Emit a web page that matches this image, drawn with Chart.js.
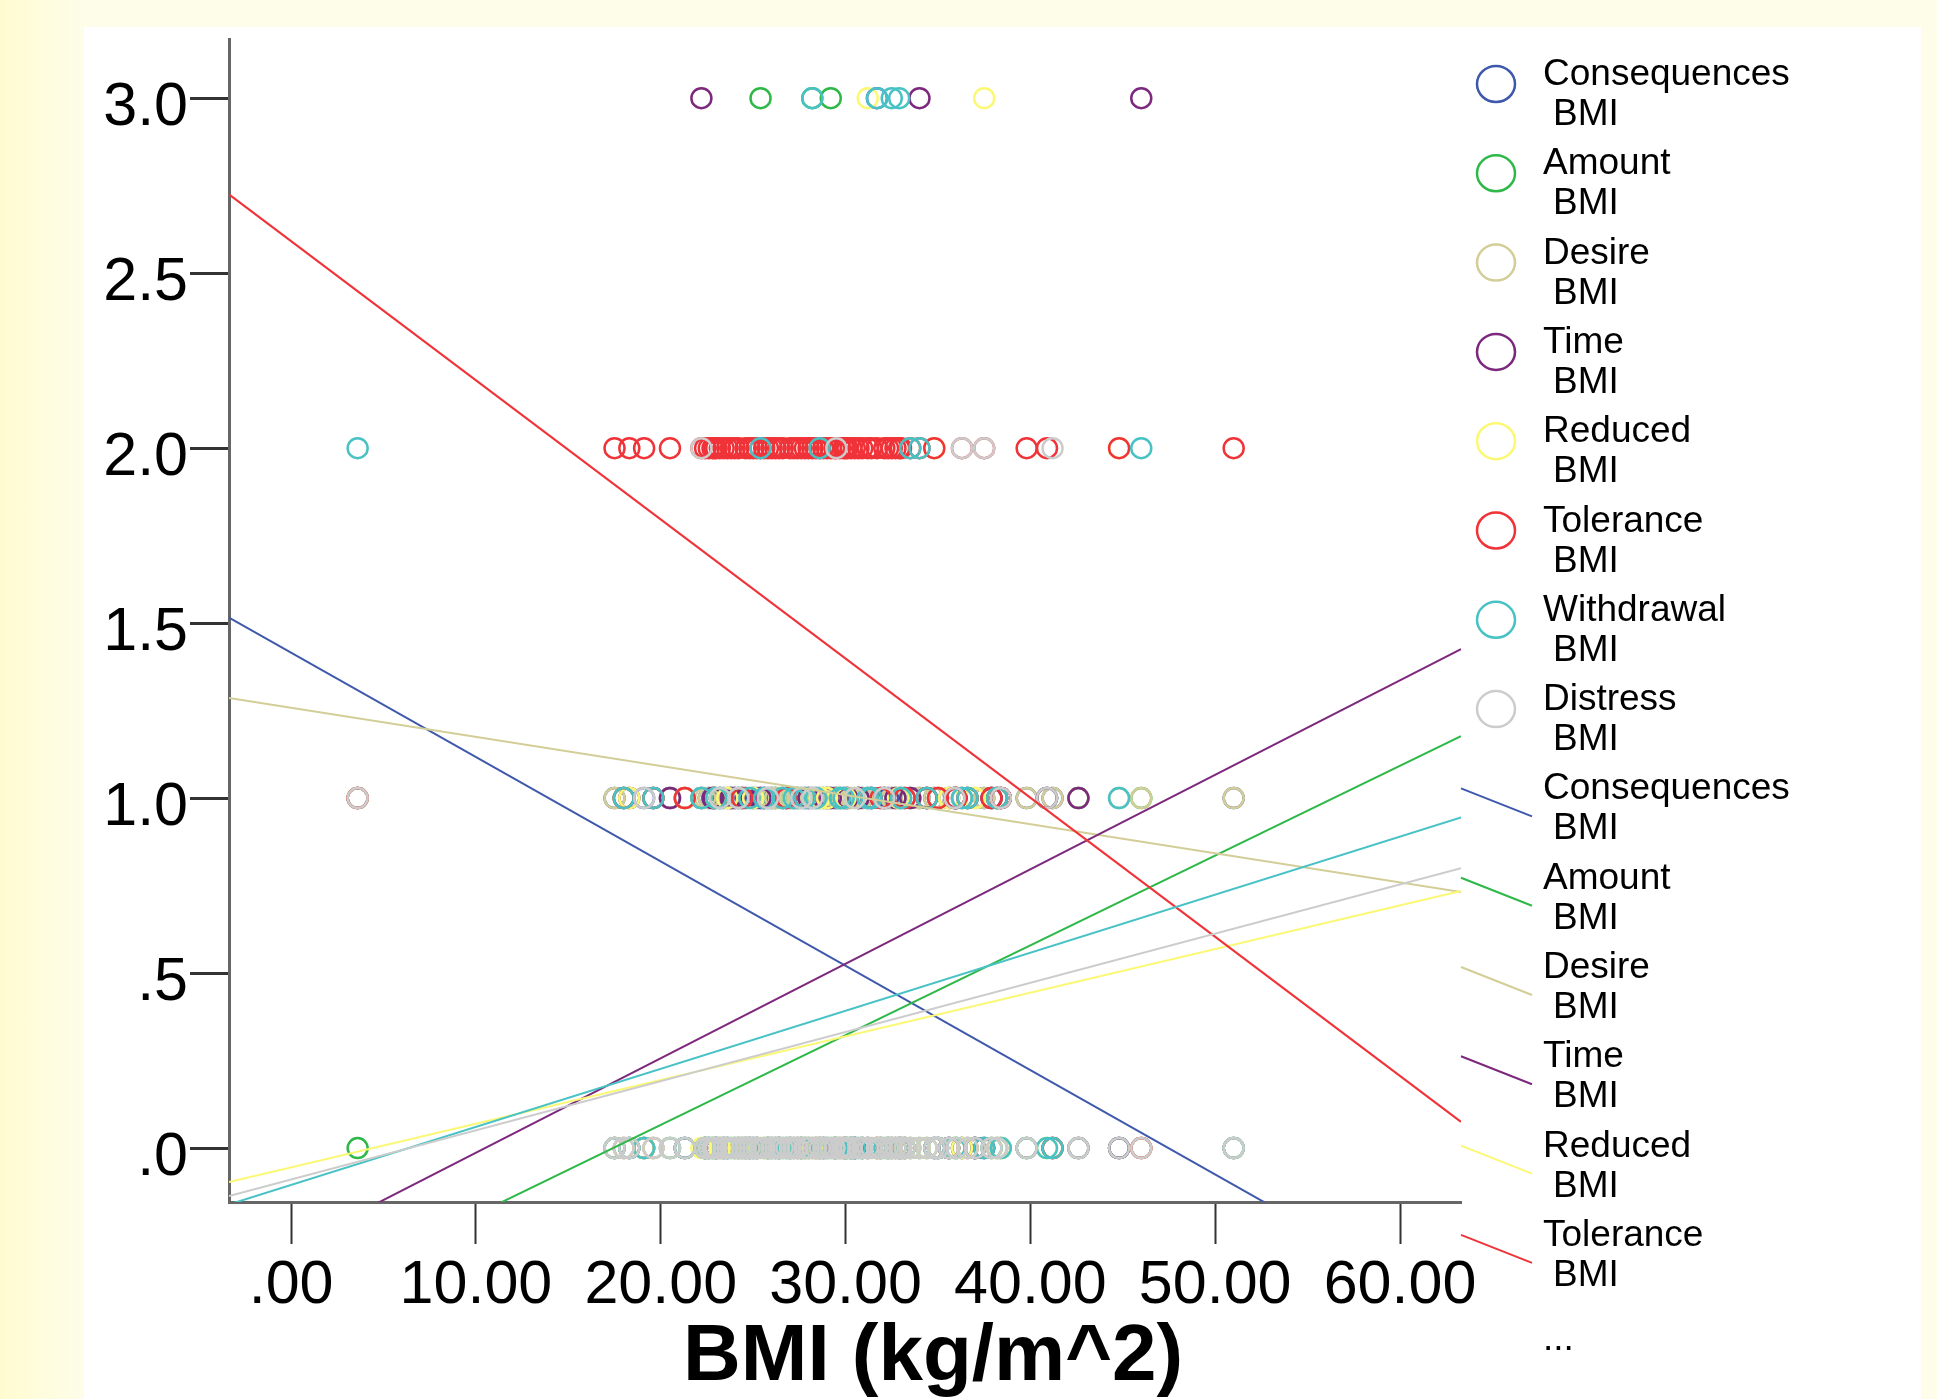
<!DOCTYPE html>
<html>
<head>
<meta charset="utf-8">
<title>BMI scatter</title>
<script src="https://cdn.jsdelivr.net/npm/chart.js@4.4.1/dist/chart.umd.min.js"></script>
<style>
    html, body {
        margin: 0;
        padding: 0;
        width: 1937px;
        height: 1399px;
        overflow: hidden;
        background: linear-gradient(to right, #fffbd0 0px, #fefde2 60px, #fdfde9 84px, #fdfde9 100%);
    }
    #panel {
        position: absolute;
        left: 84px;
        top: 27px;
        width: 1837px;
        height: 1372px;
        background: #ffffff;
    }
</style>
</head>
<body>
<div id="panel"><canvas id="chart" width="1837" height="1372"></canvas></div>
<script>
// Серии и цвета (как в SPSS)
const seriesNames = ['Consequences', 'Amount', 'Desire', 'Time', 'Reduced', 'Tolerance', 'Withdrawal', 'Distress'];
const seriesColors = ['#3e58ac', '#2eb848', '#d3ce97', '#7c287d', '#fbf873', '#ef3338', '#48c2c5', '#cccccc'];

// ИМТ участников (первые 49 по возрастанию, дальше плотные группы 22-33 и 33-38)
const bmi = [3.6, 17.5, 18.0, 18.3, 19.1, 19.6, 20.5, 21.3, 22.2, 22.4,
    22.8, 23.2, 23.6, 24.0, 24.4, 24.8, 25.4, 25.8, 26.2, 26.6,
    27.0, 27.4, 27.8, 28.2, 28.6, 29.2, 29.5, 29.9, 30.3, 30.7,
    31.2, 31.7, 32.1, 32.5, 32.9, 33.5, 34.0, 34.8, 35.9, 36.3,
    37.5, 38.4, 39.8, 40.9, 41.2, 42.6, 44.8, 46.0, 51.0,
    22.6, 22.9, 23.0, 23.4, 23.8, 24.2, 24.6, 25.0, 25.2, 25.6,
    26.0, 26.4, 26.8, 27.2, 27.6, 28.0, 28.4, 28.8, 29.0, 29.4,
    29.7, 30.1, 30.5, 30.9, 31.4, 31.9, 32.3, 32.7, 33.0, 30.0,
    33.2, 34.4, 35.0, 35.6, 36.0, 36.6, 37.0, 37.9, 38.2];

// Баллы по каждой шкале (0-3), в порядке bmi
const consequences = [1,1,1,0,1,1,1,1,1,0, 1,1,1,1,1,0,1,1,1,1, 1,1,0,1,1,1,1,1,0,1, 1,3,1,1,1,0,1,1,1,1, 1,1,1,1,1,0,0,0,1,
    1,1,0,1,1,1,0,1,1,1, 1,0,1,1,1,1,1,0,1,1, 1,1,0,1,1,1,1,0,1,1,
    1,1,0,1,1,1,0,1,1];
const amount       = [0,0,1,0,0,1,0,0,1,0, 0,1,0,0,1,0,3,0,1,0, 0,1,0,3,0,3,1,0,0,1, 0,0,1,0,0,1,0,0,1,0, 0,0,0,1,0,1,0,1,0,
    0,1,0,0,1,0,0,1,0,0, 1,0,0,1,0,0,0,1,0,0, 1,0,0,0,1,0,0,1,0,0,
    0,0,1,0,0,1,0,0,1];
const desire       = [1,1,1,1,0,1,1,1,1,1, 1,0,1,1,1,1,1,0,1,1, 1,1,1,1,0,1,1,1,1,1, 1,0,1,1,1,1,1,1,0,1, 1,1,1,1,1,1,1,1,1,
    1,1,1,0,1,1,1,1,0,1, 1,1,1,1,0,1,1,1,1,1, 0,1,1,1,1,1,0,1,1,1,
    1,1,1,1,0,1,1,1,1];
const time         = [1,0,0,1,0,0,1,0,3,0, 1,0,0,1,0,0,1,0,0,1, 0,0,1,0,0,1,0,0,0,1, 0,0,1,0,0,1,3,0,1,0, 0,1,0,1,0,1,0,3,0,
    0,1,0,0,1,0,1,0,0,1, 0,0,1,0,0,1,0,0,1,0, 0,1,0,0,1,0,0,1,0,0,
    0,1,0,0,1,0,0,1,0];
const reduced      = [1,0,0,1,0,0,0,1,0,0, 0,0,1,0,0,0,0,0,0,1, 0,0,0,0,1,0,0,0,0,0, 3,0,0,0,1,0,0,2,0,0, 3,0,0,0,0,0,2,0,0,
    0,0,1,0,0,0,0,1,0,0, 0,0,0,1,0,0,0,0,1,0, 0,0,1,0,0,0,0,0,0,1,
    0,0,0,1,0,0,1,0,0];
const tolerance    = [1,2,1,2,2,1,2,1,2,2, 2,2,2,2,1,2,2,2,2,2, 2,2,2,2,2,2,2,2,2,2, 2,2,2,2,2,2,2,2,1,2, 2,1,2,2,0,0,2,0,2,
    2,2,2,2,2,2,2,2,2,2, 2,2,1,2,2,2,2,2,2,2, 2,2,2,2,2,1,2,2,2,2,
    1,1,1,0,1,1,0,1,1];
const withdrawal   = [2,0,1,0,0,1,0,0,1,0, 0,1,0,0,0,1,2,0,0,1, 0,0,1,3,2,0,0,1,0,0, 1,3,0,3,3,2,2,0,0,1, 0,0,0,0,0,0,1,2,0,
    0,0,1,0,0,1,0,0,0,1, 0,0,0,1,0,0,1,0,0,0, 1,0,0,0,1,0,0,0,1,0,
    0,1,0,0,0,1,0,0,1];
const distress     = [1,0,0,0,1,0,0,0,2,0, 0,1,0,0,0,0,0,1,0,0, 0,0,0,1,0,0,2,0,0,0, 0,0,1,0,0,0,0,0,1,2, 2,1,0,1,2,0,0,0,0,
    0,0,0,0,0,1,0,0,0,0, 0,0,0,0,1,0,0,0,0,0, 0,0,1,0,0,0,0,0,0,0,
    0,0,0,0,0,0,0,0,0];
const scores = [consequences, amount, desire, time, reduced, tolerance, withdrawal, distress];

// Линии регрессии: значение на левом и правом краю оси X
const xMin = -3.36;
const xMax = 63.3;
const fitAtMin = [1.516, -0.533, 1.286, -0.374, -0.097, 2.725, -0.161, -0.137];
const fitAtMax = [-0.472, 1.177, 0.732, 1.426, 0.735, 0.075, 0.945, 0.800];

// Оси
const xTicks = [0, 10, 20, 30, 40, 50, 60];
const xTickLabels = ['.00', '10.00', '20.00', '30.00', '40.00', '50.00', '60.00'];
const yTicks = [0, 0.5, 1, 1.5, 2, 2.5, 3];
const yTickLabels = ['.0', '.5', '1.0', '1.5', '2.0', '2.5', '3.0'];
const xTitle = 'BMI (kg/m^2)';
const legendFitCount = 6; // в легенде видны только первые 6 линий, дальше "..."

const FONT = "'Liberation Sans', Arial, sans-serif";

// Наборы данных: сначала точки, потом линии (линии поверх)
const datasets = [];
seriesNames.forEach((name, i) => {
    datasets.push({
        type: 'scatter',
        label: name,
        data: bmi.map((b, k) => ({ x: b, y: scores[i][k] })),
        pointStyle: 'circle',
        pointRadius: 10,
        pointBorderWidth: 2.5,
        pointBorderColor: seriesColors[i],
        pointBackgroundColor: 'rgba(0,0,0,0)',
        order: 20 - i
    });
});
seriesNames.forEach((name, i) => {
    datasets.push({
        type: 'line',
        label: name + ' fit',
        data: [{ x: xMin, y: fitAtMin[i] }, { x: xMax, y: fitAtMax[i] }],
        borderColor: seriesColors[i],
        borderWidth: 2,
        pointRadius: 0,
        fill: false,
        order: 10 - i
    });
});

// Легенда в стиле SPSS и подпись оси X
const spssLegend = {
    id: 'spssLegend',
    afterDraw(chart) {
        const ctx = chart.ctx;
        const textX = 1543 - 84;
        const step = 89.3;
        const firstBase = 85 - 27;
        ctx.save();
        ctx.font = '37px ' + FONT;
        ctx.textAlign = 'left';
        ctx.textBaseline = 'alphabetic';

        const items = [];
        seriesNames.forEach((n, i) => items.push({ kind: 'point', name: n, color: seriesColors[i] }));
        seriesNames.slice(0, legendFitCount).forEach((n, i) => items.push({ kind: 'line', name: n, color: seriesColors[i] }));

        items.forEach((it, k) => {
            const base = firstBase + step * k;
            if (it.kind === 'point') {
                ctx.beginPath();
                ctx.strokeStyle = it.color;
                ctx.lineWidth = 2.5;
                ctx.ellipse(1496 - 84, base - 1, 19, 18, 0, 0, Math.PI * 2);
                ctx.stroke();
            } else {
                ctx.beginPath();
                ctx.strokeStyle = it.color;
                ctx.lineWidth = 2;
                ctx.moveTo(1461 - 84, base - 11);
                ctx.lineTo(1532 - 84, base + 17);
                ctx.stroke();
            }
            ctx.fillStyle = '#000';
            ctx.fillText(it.name, textX, base);
            ctx.fillText('BMI', textX + 10, base + 40);
        });
        ctx.fillText('...', textX, firstBase + step * 14 + 15);

        // подпись оси X
        ctx.font = 'bold 80px ' + FONT;
        ctx.textAlign = 'center';
        ctx.fillText(xTitle, 933 - 84, 1380 - 27);
        ctx.restore();
    }
};

// убираем авто-отступы шкал, чтобы область графика встала точно
function fixPadding(scale) {
    scale.paddingTop = 0;
    scale.paddingBottom = 0;
    scale.paddingLeft = 0;
    scale.paddingRight = 0;
}

const chart = new Chart(document.getElementById('chart'), {
    data: { datasets: datasets },
    options: {
        responsive: false,
        animation: false,
        devicePixelRatio: 1,
        layout: { autoPadding: false, padding: { top: 12, right: 460, left: 0, bottom: 0 } },
        plugins: {
            legend: { display: false },
            tooltip: { enabled: false }
        },
        scales: {
            x: {
                type: 'linear',
                min: xMin,
                max: xMax,
                afterBuildTicks: (scale) => { scale.ticks = xTicks.map(v => ({ value: v })); },
                afterFit: (scale) => { scale.height = 197; fixPadding(scale); },
                ticks: {
                    callback: (v) => xTickLabels[xTicks.indexOf(v)],
                    font: { family: FONT, size: 61 },
                    color: '#000',
                    padding: 6,
                    maxRotation: 0,
                    autoSkip: false
                },
                grid: {
                    drawOnChartArea: false,
                    drawTicks: true,
                    tickLength: 42,
                    tickColor: '#333',
                    tickWidth: 2
                },
                border: { display: true, color: '#666', width: 3 }
            },
            y: {
                type: 'linear',
                min: -0.154,
                max: 3.169,
                afterBuildTicks: (scale) => { scale.ticks = yTicks.map(v => ({ value: v })); },
                afterFit: (scale) => { scale.width = 145; fixPadding(scale); },
                ticks: {
                    callback: (v) => yTickLabels[yTicks.indexOf(v)],
                    font: { family: FONT, size: 61 },
                    color: '#000',
                    padding: 2,
                    labelOffset: 10,
                    autoSkip: false
                },
                grid: {
                    drawOnChartArea: false,
                    drawTicks: true,
                    tickLength: 39,
                    tickColor: '#333',
                    tickWidth: 3
                },
                border: { display: true, color: '#666', width: 3 }
            }
        }
    },
    plugins: [spssLegend]
});
</script>
</body>
</html>
